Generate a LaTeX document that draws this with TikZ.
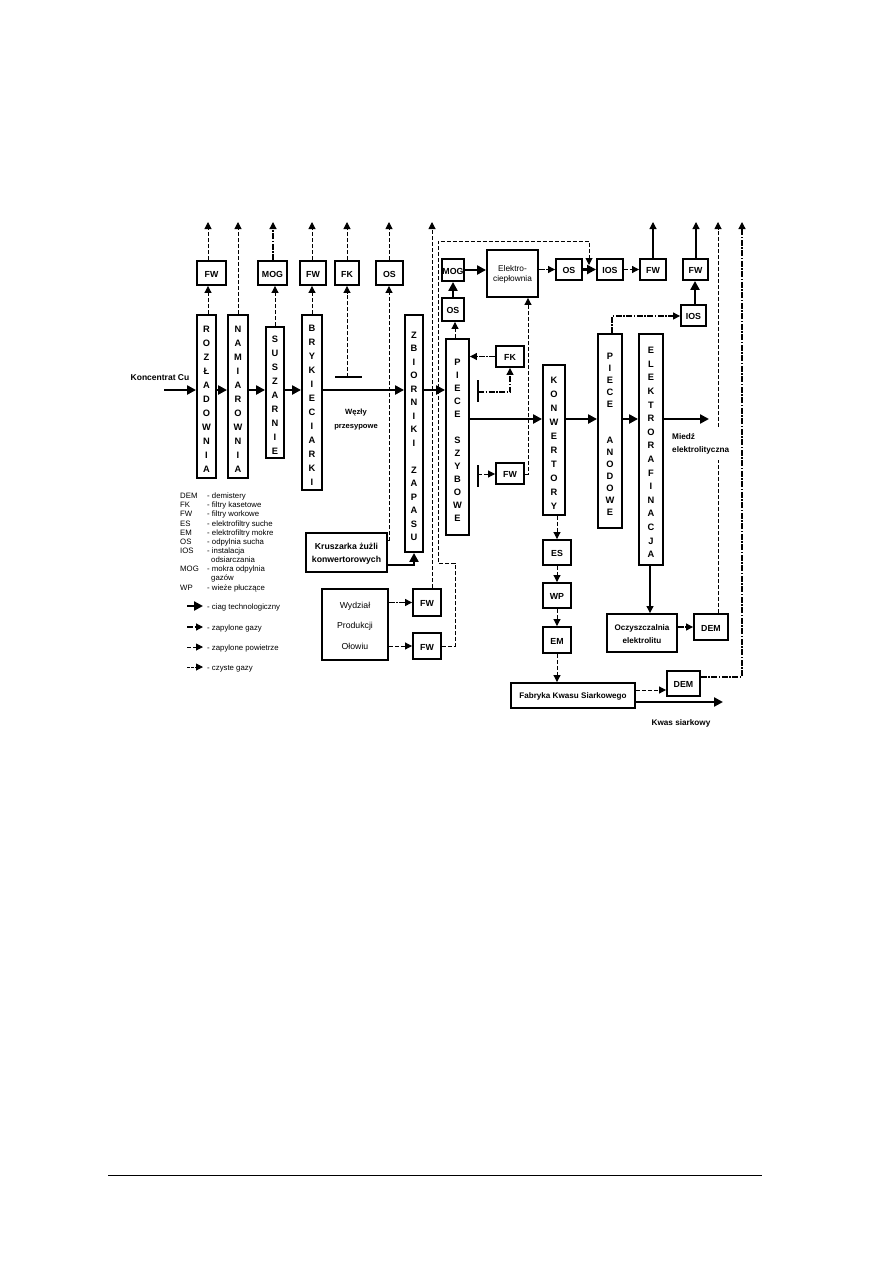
\documentclass[tikz,border=0pt]{standalone}
\usepackage{fontspec}
\setmainfont{Liberation Sans}
\usetikzlibrary{arrows.meta,fit,calc}
\newcommand\bx[7][]{%
  \node[frame, fit={(#3,#4) (#5,#6)}] (#2) {};
  \node[txt, #1] (#2-t) at (#2.center) {#7};}
\begin{document}
\begin{tikzpicture}[x=1pt,y=-1pt,
  frame/.style={draw, line width=1.9pt, inner sep=0pt},
  txt/.style={inner sep=0pt, align=center, yshift=-1pt, font=\fontsize{8.8}{10}\selectfont\bfseries},
  vt/.style={font=\fontsize{9.3}{#1}\selectfont\bfseries, yshift=-2pt},
  flow/.style={line width=2.5pt, -{Triangle[length=9pt,width=9pt]}},
  thinflow/.style={line width=1.1pt, -{Triangle[length=7pt,width=7pt]}},
  dsh/.style={line width=1pt, dash pattern=on 4pt off 2pt, -{Triangle[length=7pt,width=7pt]}},
  dd/.style={line width=1.2pt, dash pattern=on 6pt off 1.5pt on 1.5pt off 1.5pt, -{Triangle[length=7pt,width=7pt]}},
  bar/.style={line width=2.5pt},
  lbl/.style={font=\fontsize{8.5}{11}\selectfont\bfseries, align=center, inner sep=0pt},
  leg/.style={font=\fontsize{7.8}{9}\selectfont, anchor=base west, inner sep=0pt},
]
\useasboundingbox (0,0) rectangle (893,1263);

% ---------- top row boxes ----------
\bx{fw1}{197}{261}{226}{285}{FW}
\bx{mog1}{258}{261}{287}{285}{MOG}
\bx{fw2}{300}{261}{326}{285}{FW}
\bx{fk1}{335}{261}{359}{285}{FK}
\bx{os1}{376}{261}{403}{285}{OS}

\bx{mog2}{442}{259}{464}{281}{MOG}
\bx{os2}{442}{298}{464}{321}{OS}
\bx[font=\fontsize{8.3}{10}\selectfont]{elc}{487}{250}{538}{297}{Elektro-\\ciepłownia}
\bx{os3}{556}{259}{582}{280}{OS}
\bx{ios1}{597}{259}{623}{280}{IOS}
\bx{fw3}{640}{259}{666}{280}{FW}
\bx{fw4}{683}{259}{708}{280}{FW}
\bx{ios2}{681}{305}{706}{326}{IOS}

% ---------- vertical boxes ----------
\bx[vt=14]{roz}{197}{315}{216}{478}{R\\O\\Z\\Ł\\A\\D\\O\\W\\N\\I\\A}
\bx[vt=14]{nam}{228}{315}{248}{478}{N\\A\\M\\I\\A\\R\\O\\W\\N\\I\\A}
\bx[vt=14]{sus}{266}{327}{284}{458}{S\\U\\S\\Z\\A\\R\\N\\I\\E}
\bx[vt=14]{bry}{302}{315}{322}{490}{B\\R\\Y\\K\\I\\E\\C\\I\\A\\R\\K\\I}
\bx[vt=13.5]{zbi}{405}{315}{423}{552}{Z\\B\\I\\O\\R\\N\\I\\K\\I\\~\\Z\\A\\P\\A\\S\\U}
\bx[vt=13]{pie}{446}{339}{469}{535}{P\\I\\E\\C\\E\\~\\S\\Z\\Y\\B\\O\\W\\E}
\bx[vt=14]{kon}{543}{365}{565}{515}{K\\O\\N\\W\\E\\R\\T\\O\\R\\Y}
\bx[vt=12]{pan}{598}{334}{622}{528}{P\\I\\E\\C\\E\\~\\~\\A\\N\\O\\D\\O\\W\\E}
\bx[vt=13.6]{ele}{639}{334}{663}{565}{E\\L\\E\\K\\T\\R\\O\\R\\A\\F\\I\\N\\A\\C\\J\\A}

% ---------- other boxes ----------
\bx{fk2}{496}{346}{524}{367}{FK}
\bx{fw5}{496}{463}{524}{484}{FW}
\bx[font=\fontsize{8.7}{12.5}\selectfont\bfseries]{krusz}{306}{533}{387}{572}{Kruszarka żużli\\konwertorowych}
\bx[font=\fontsize{8.7}{20.5}\selectfont]{wyd}{322}{589}{388}{660}{Wydział\\Produkcji\\Ołowiu}
\bx{fw6}{413}{589}{441}{616}{FW}
\bx{fw7}{413}{633}{441}{659}{FW}
\bx{es}{543}{540}{571}{565}{ES}
\bx{wp}{543}{583}{571}{608}{WP}
\bx{em}{543}{627}{571}{653}{EM}
\bx[font=\fontsize{8.1}{10}\selectfont\bfseries]{fab}{511}{683}{635}{708}{Fabryka Kwasu Siarkowego}
\bx[font=\fontsize{8.1}{12.5}\selectfont\bfseries]{ocz}{607}{614}{677}{652}{Oczyszczalnia\\elektrolitu}
\bx{dem1}{694}{614}{728}{640}{DEM}
\bx{dem2}{667}{671}{700}{696}{DEM}

% ---------- free ends ----------
\coordinate (kin) at (164,390);
\coordinate (fy) at (0,419);
\coordinate (mied) at (709,419);
\coordinate (kwasend) at (723,702);
\foreach \n/\x in {a/208,b/238,c/273,d/312,e/347,f/389,g/432,h/653,i/696,j/718,k/742}
  \coordinate (up\n) at (\x,222);
\coordinate (b1l) at (335,377); \coordinate (b1r) at (362,377);
\coordinate (b2t) at (478,380); \coordinate (b2b) at (478,402);
\coordinate (b3t) at (478,465); \coordinate (b3b) at (478,487);

% ---------- labels ----------
\node[lbl] (kc) at (160,378) {Koncentrat Cu};
\node[lbl, font=\fontsize{7.6}{14}\selectfont\bfseries] (wez) at (356,420) {Węzły\\przesypowe};
\node[lbl, font=\fontsize{8.2}{13}\selectfont\bfseries] (kwas) at (681,723) {Kwas siarkowy};

% ---------- main technological flow ----------
\draw[flow] (kin) -- (roz.west |- kin);
\draw[flow] (roz.east |- kin) -- (nam.west |- kin);
\draw[flow] (nam.east |- kin) -- (sus.west |- kin);
\draw[flow] (sus.east |- kin) -- (bry.west |- kin);
\draw[flow] (bry.east |- kin) -- (zbi.west |- kin);
\draw[flow] (zbi.east |- kin) -- (pie.west |- kin);
\draw[flow] (pie.east |- fy) -- (kon.west |- fy);
\draw[flow] (kon.east |- fy) -- (pan.west |- fy);
\draw[flow] (pan.east |- fy) -- (ele.west |- fy);
\draw[flow] (ele.east |- fy) -- (mied);
\draw[flow] (krusz.east |- 0,565) -- (zbi.south |- 0,565) -- (zbi.south);
\draw[flow] (os2.north -| 453,0) -- (mog2.south -| 453,0);
\draw[flow] (mog2.east) -- (elc.west |- mog2.east);
\draw[flow] (os3.east) -- (ios1.west |- os3.east);
\draw[flow] (ios2.north -| 695,0) -- (fw4.south -| 695,0);
\draw[flow] (fab.east |- kwasend) -- (kwasend);
\draw[thinflow] (ele.south -| 650,0) -- (ocz.north -| 650,0);
\draw[thinflow] (fw3.north -| uph) -- (uph);
\draw[thinflow] (fw4.north -| upi) -- (upi);

% ---------- bars ----------
\draw[bar] (b1l) -- (b1r);
\draw[line width=2pt] (b2t) -- (b2b);
\draw[line width=2pt] (b3t) -- (b3b);

% ---------- gas lines ----------
\draw[dsh] (roz.north -| upa) -- (fw1.south -| upa);
\draw[dsh] (fw1.north -| upa) -- (upa);
\draw[dsh] (nam.north -| upb) -- (upb);
\draw[dsh] (sus.north -| 275,0) -- (mog1.south -| 275,0);
\draw[dd] (mog1.north -| upc) -- (upc);
\draw[dsh] (bry.north -| upd) -- (fw2.south -| upd);
\draw[dsh] (fw2.north -| upd) -- (upd);
\draw[dsh] (fk1.south |- b1l) -- (fk1.south);
\draw[dsh] (fk1.north -| upe) -- (upe);
\draw[dsh] (krusz.east |- 0,540) -- (389,540) -- (os1.south -| upf);
\draw[dsh] (os1.north -| upf) -- (upf);
\draw[dsh] (fw6.north -| upg) -- (upg);
\draw[dsh] (fw7.east) -- (455,646) -- (455,563) -- (438,563) -- (438,241) -- (589,241) -- (589,265);
\draw[dsh] (pie.north -| 455,0) -- (os2.south -| 455,0);
\draw[dd] (elc.east |- os3.west) -- (os3.west);
\draw[dsh] (ios1.east) -- (fw3.west |- ios1.east);
\draw[dd] (pan.north -| 612,0) -- (612,316) -- (ios2.west |- 0,316);
\draw[dd] (fk2.west) -- (pie.east |- fk2.west);
\draw[dd] (478,392) -- (510,392) -- (fk2.south);
\draw[dsh] (478,474) -- (fw5.west |- 0,474);
\draw[dsh] (fw5.east |- 0,474) -- (528,474) -- (elc.south -| 528,0);
\draw[dsh] (kon.south -| es.north) -- (es.north);
\draw[dsh] (es.south) -- (wp.north);
\draw[dsh] (wp.south) -- (em.north);
\draw[dsh] (em.south) -- (fab.north -| em.south);
\draw[dsh] (fab.east |- 0,690) -- (dem2.west |- 0,690);
\draw[dd] (dem2.east |- 0,677) -- (742,677) -- (upk);
\draw[dd] (ocz.east |- 0,627) -- (dem1.west |- 0,627);
\draw[dsh] (dem1.north -| upj) -- (upj);
\draw[dd] (wyd.east |- fw6.west) -- (fw6.west);
\draw[dsh] (wyd.east |- fw7.west) -- (fw7.west);

\node[lbl, font=\fontsize{8.2}{13}\selectfont\bfseries, align=left, anchor=north west, fill=white, inner xsep=0pt, inner ysep=6pt] (mie) at (672,427) {Miedź\\elektrolityczna};

% ---------- legend ----------
\foreach \a/\b/\y in {DEM/demistery/495, FK/filtry kasetowe/504, FW/filtry workowe/513, ES/elektrofiltry suche/523, EM/elektrofiltry mokre/532, OS/odpylnia sucha/541, IOS/instalacja/550, MOG/mokra odpylnia/568, WP/wieże płuczące/587}{
  \node[leg] at (180,\y+3) {\a};
  \node[leg] at (207,\y+3) {- \b};
}
\node[leg] (ods) at (211,562) {odsiarczania};
\node[leg] (gaz) at (211,580) {gazów};

\coordinate (la1) at (187,606); \coordinate (lb1) at (203,606);
\coordinate (la2) at (187,627); \coordinate (lb2) at (203,627);
\coordinate (la3) at (187,647); \coordinate (lb3) at (203,647);
\coordinate (la4) at (187,667); \coordinate (lb4) at (203,667);
\draw[flow] (la1) -- (lb1);
\draw[dd] (la2) -- (lb2);
\draw[dsh] (la3) -- (lb3);
\draw[dsh, dash pattern=on 2.5pt off 1.5pt] (la4) -- (lb4);
\node[leg] (l1) at (207,609) {- ciag technologiczny};
\node[leg] (l2) at (207,630) {- zapylone gazy};
\node[leg] (l3) at (207,650) {- zapylone powietrze};
\node[leg] (l4) at (207,670) {- czyste gazy};

% ---------- page rule ----------
\coordinate (r1) at (108,1175); \coordinate (r2) at (762,1175);
\draw[line width=0.8pt] (r1) -- (r2);
\end{tikzpicture}
\end{document}
